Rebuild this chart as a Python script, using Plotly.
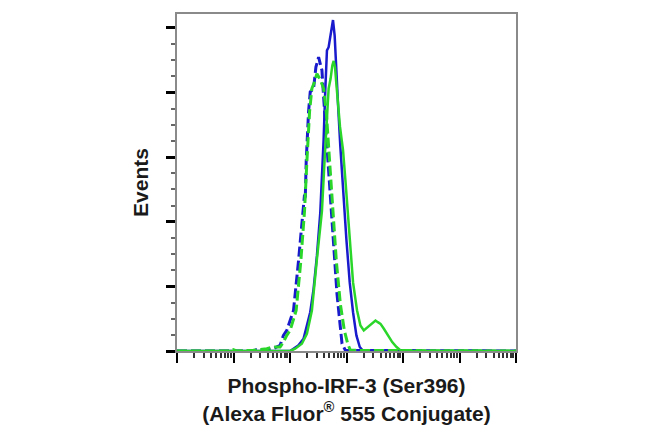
import plotly.graph_objects as go

# Fluorescence intensity (log axis, 6 decades) and event counts
blue_solid_x = [1, 100.5, 115.3, 141.4, 173.5, 199.0, 228.0, 261.2, 299.3, 343.4, 367.6, 393.5,
                421.2, 450.8, 482.6, 530.9, 576.8, 617.2, 660.7, 707.0, 778.1, 867.0, 930.0,
                995.4, 1140, 1306, 1497, 1718, 1968, 1e6]
blue_solid_y = [0, 0, 1.8, 4.4, 9.5, 19.7, 30.0, 47.9, 73.6, 106.9, 132.6, 163.3,
                201.8, 232.6, 235.1, 245.4, 256.1, 244.1, 222.3, 191.5, 158.2, 122.3, 108.0,
                86.4, 53.1, 30.0, 12.1, 3.1, 0, 0]

blue_dash_x = [1, 22.4, 25.0, 29.5, 38.7, 50.8, 66.8, 76.5, 87.7, 93.9, 115.3, 141.4, 173.5,
               180.7, 186.0, 193.5, 213.0, 228.0, 261.2, 287.5, 320.6, 367.6, 393.5, 450.8,
               516.6, 592.7, 679.0, 778.1, 833.4, 955.0, 1e6]
blue_dash_y = [0, 0, 1.0, 0.5, 0.8, 1.8, 4.4, 12.1, 15.9, 19.7, 31.3, 69.7, 108.2,
               121.0, 117.0, 146.7, 185.1, 200.5, 203.1, 219.7, 227.4, 217.2, 196.7, 159.5,
               121.0, 82.6, 44.1, 18.5, 5.6, 0.5, 0]

green_dash_x = [1, 8.63, 9.89, 11.3, 22.4, 38.7, 50.8, 66.8, 76.5, 87.7, 100.5, 128.5, 155.5,
                180.7, 199.0, 221.8, 244.0, 270.0, 299.3, 343.4, 393.5, 438.8, 502.6, 576.8,
                660.7, 778.1, 916.2, 1050, 1172, 1e6]
green_dash_y = [0, 0, 1.0, 0, 0.5, 1.8, 3.1, 3.1, 6.9, 12.1, 15.9, 31.3, 69.7,
                108.2, 146.7, 185.1, 203.1, 208.0, 214.6, 210.0, 203.1, 185.1, 146.7, 108.2,
                69.7, 36.4, 15.9, 5.6, 0.5, 0]

green_solid_x = [1, 100.5, 123.4, 162.1, 199.0, 244.0, 299.3, 367.6, 409.7, 450.8, 482.6, 523.6,
                 561.0, 592.7, 625.8, 660.7, 707.0, 767.4, 821.9, 867.0, 955.0, 1050, 1172,
                 1306, 1538, 1764, 2022, 2383, 2844, 3261, 3589, 4001, 4585, 5399, 6446, 7697,
                 9058, 10380, 1e6]
green_solid_y = [0, 0, 1.8, 5.6, 13.3, 31.3, 71.0, 108.2, 147.9, 185.1, 203.1, 210.8,
                 221.0, 224.5, 219.7, 206.9, 189.0, 173.6, 163.3, 155.6, 132.6, 108.2, 81.3,
                 53.1, 31.3, 19.7, 15.9, 18.5, 21.0, 23.6, 22.3, 21.0, 17.2, 12.1, 6.9, 3.1,
                 0.5, 0, 0]

BLUE = "#1a1acd"
GREEN = "#2bd62b"

fig = go.Figure()
fig.add_trace(go.Scatter(x=blue_dash_x, y=blue_dash_y, mode="lines",
                         line=dict(color=BLUE, width=3, dash="10px,4px")))
fig.add_trace(go.Scatter(x=blue_solid_x, y=blue_solid_y, mode="lines",
                         line=dict(color=BLUE, width=2.5)))
fig.add_trace(go.Scatter(x=green_dash_x, y=green_dash_y, mode="lines",
                         line=dict(color=GREEN, width=3, dash="10px,4px")))
fig.add_trace(go.Scatter(x=green_solid_x, y=green_solid_y, mode="lines",
                         line=dict(color=GREEN, width=2.5)))

major_x = [10 ** k for k in range(7)]
minor_x = [m * 10 ** k for k in range(6) for m in range(2, 10)]

FONT = "Liberation Sans, Arial, sans-serif"

fig.update_layout(
    width=650, height=438,
    margin=dict(l=169, r=142, t=4, b=95),
    paper_bgcolor="white", plot_bgcolor="white",
    showlegend=False,
    xaxis=dict(
        type="log", range=[0, 6],
        tickvals=major_x, showticklabels=False,
        ticks="outside", ticklen=10, tickwidth=2.2, tickcolor="black",
        minor=dict(tickvals=minor_x, ticks="outside", ticklen=5, tickwidth=1.5,
                   tickcolor="#333333", showgrid=False),
        showgrid=False, zeroline=False,
        showline=True, linecolor="#8a8a8a", linewidth=1.5, mirror=True,
        title=dict(text="<b>Phospho-IRF-3 (Ser396)<br>(Alexa Fluor<sup>®</sup> 555 Conjugate)</b>",
                   font=dict(family=FONT, size=21, color="#1a1a1a"), standoff=17),
    ),
    yaxis=dict(
        range=[0, 260.8],
        tickvals=[0, 50, 100, 150, 200, 250], showticklabels=False,
        ticks="outside", ticklen=9, tickwidth=2.5, tickcolor="black",
        minor=dict(dtick=12.5, ticks="outside", ticklen=4, tickwidth=1.5,
                   tickcolor="#666666", showgrid=False),
        showgrid=False, zeroline=False,
        showline=True, linecolor="#8a8a8a", linewidth=1.5, mirror=True,
        title=dict(text="<b>Events</b>", font=dict(family=FONT, size=21, color="#1a1a1a"),
                   standoff=12),
    ),
)

fig.write_html("out.html")
